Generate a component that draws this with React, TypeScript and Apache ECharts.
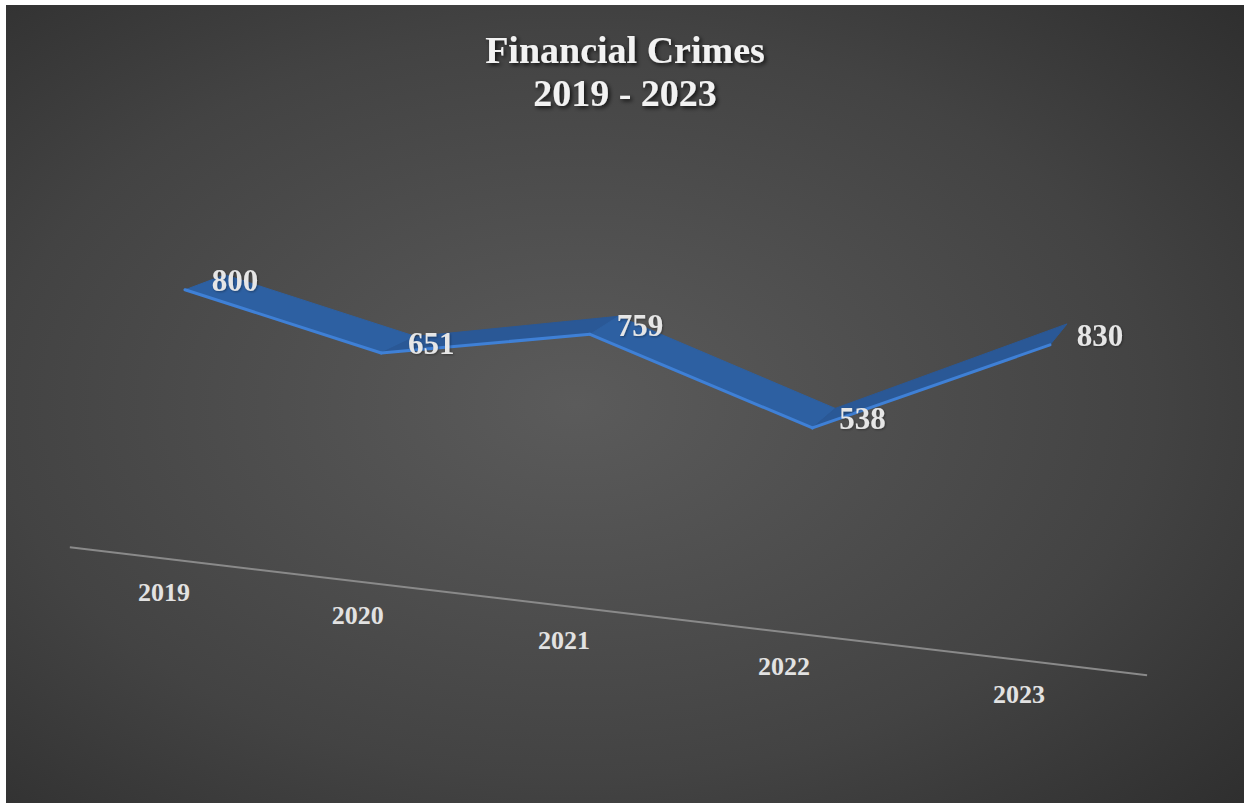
import React, { useEffect, useRef } from "react";
import * as echarts from "echarts";

// ---- data ----
const years: string[] = ["2019", "2020", "2021", "2022", "2023"];
const crimes: number[] = [800, 651, 759, 538, 830];
const chartTitle = "Financial Crimes\n2019 - 2023";

// ---- layout / projection (styling only) ----
const W = 1238;
const H = 798;
const GRID_LEFT = 179;
const GRID_RIGHT = 194;
const GRID_TOP = 222;
const GRID_BOTTOM = 262;
const BASE_Y = H - GRID_BOTTOM;
const PERSP = -0.1196; // perspective factor along the category direction
const FLOOR_SLOPE = 0.1155; // slant of the floor in screen space

function project(p: number[]) {
  const gw = W - GRID_LEFT - GRID_RIGHT;
  const t = (p[0] - GRID_LEFT) / gw;
  const w = 1 / (1 + PERSP * t);
  const x = GRID_LEFT + gw * t * (1 + PERSP) * w;
  const h = BASE_Y - p[1];
  const y = BASE_Y + FLOOR_SLOPE * (x - GRID_LEFT) - h * w;
  return { x, y, t };
}

function depth(t: number) {
  return [40 - 23 * t, -15 - 6 * t];
}

export default function App() {
  const ref = useRef<HTMLDivElement>(null);

  useEffect(() => {
    if (!ref.current) return;
    const chart = echarts.init(ref.current, null, { renderer: "svg" });

    const ribbonData = crimes.map((v, i) => [i, v]);
    const axisData = years.map((_, i) => [i, 0]);

    const option: any = {
      animation: false,
      backgroundColor: "transparent",
      graphic: [
        {
          type: "rect",
          z: -10,
          silent: true,
          shape: { x: 0, y: 0, width: W, height: H },
          style: {
            fill: new echarts.graphic.RadialGradient(0.46, 0.5, 0.85, [
              { offset: 0, color: "#5b5b5b" },
              { offset: 0.55, color: "#434343" },
              { offset: 1, color: "#262626" },
            ]),
          },
        },
      ],
      title: {
        text: chartTitle,
        left: "center",
        top: 18,
        textStyle: {
          color: "#f2f2f2",
          fontFamily: "Liberation Serif",
          fontWeight: "bold",
          fontSize: 38,
          lineHeight: 43,
          textShadowColor: "rgba(0,0,0,0.75)",
          textShadowBlur: 4,
          textShadowOffsetX: 2,
          textShadowOffsetY: 2,
        },
      },
      grid: { left: GRID_LEFT, right: GRID_RIGHT, top: GRID_TOP, bottom: GRID_BOTTOM },
      xAxis: {
        type: "category",
        data: years,
        boundaryGap: false,
        show: false,
      },
      yAxis: {
        type: "value",
        min: 0,
        max: 1000,
        show: false,
        splitLine: { show: false },
      },
      series: [
        {
          type: "custom",
          name: "axis",
          clip: false,
          z: 2,
          data: axisData,
          renderItem: (params: any, api: any) => {
            const i = params.dataIndex;
            const p = project(api.coord([api.value(0), 0]));
            const children: any[] = [
              {
                type: "text",
                x: p.x - 21 - 10 * p.t,
                y: p.y + 51 + 3 * p.t,
                style: {
                  text: years[i],
                  fill: "#e2e2e2",
                  fontFamily: "Liberation Serif",
                  fontWeight: "bold",
                  fontSize: 26,
                  align: "center",
                  verticalAlign: "middle",
                },
              },
            ];
            if (i === 0) {
              const a = api.coord([0, 0]);
              const b = api.coord([years.length - 1, 0]);
              const f0 = -0.154;
              const f1 = 1.0975;
              const s = project([a[0] + (b[0] - a[0]) * f0, a[1] + 20]);
              const e = project([a[0] + (b[0] - a[0]) * f1, a[1] + 20]);
              children.unshift({
                type: "line",
                shape: { x1: s.x, y1: s.y, x2: e.x, y2: e.y },
                style: { stroke: "#8a8a8a", lineWidth: 2 },
              });
            }
            return { type: "group", children };
          },
        },
        {
          type: "custom",
          name: "Financial Crimes",
          clip: false,
          z: 3,
          data: ribbonData,
          renderItem: (params: any, api: any) => {
            const i = params.dataIndex;
            if (i >= crimes.length - 1) return { type: "group", children: [] };
            const p0 = project(api.coord([i, crimes[i]]));
            const p1 = project(api.coord([i + 1, crimes[i + 1]]));
            const d0 = depth(p0.t);
            const d1 = depth(p1.t);
            const rising = p1.y < p0.y;
            return {
              type: "group",
              children: [
                {
                  type: "polygon",
                  shape: {
                    points: [
                      [p0.x, p0.y],
                      [p1.x, p1.y],
                      [p1.x + d1[0], p1.y + d1[1]],
                      [p0.x + d0[0], p0.y + d0[1]],
                    ],
                  },
                  style: {
                    fill: rising ? "#2a5896" : "#2d60a2",
                    stroke: rising ? "#2a5896" : "#2d60a2",
                    lineWidth: 1,
                  },
                },
                {
                  type: "line",
                  shape: { x1: p0.x, y1: p0.y, x2: p1.x, y2: p1.y },
                  style: { stroke: "#3f80d6", lineWidth: 3, lineCap: "round" },
                },
              ],
            };
          },
        },
        {
          type: "custom",
          name: "labels",
          clip: false,
          z: 5,
          data: ribbonData,
          renderItem: (params: any, api: any) => {
            const i = params.dataIndex;
            const p = project(api.coord([i, crimes[i]]));
            return {
              type: "text",
              x: p.x + 50,
              y: p.y - 9,
              style: {
                text: String(crimes[i]),
                fill: "#e6e6e6",
                fontFamily: "Liberation Serif",
                fontWeight: "bold",
                fontSize: 31,
                align: "center",
                verticalAlign: "middle",
                textShadowColor: "rgba(0,0,0,0.35)",
                textShadowBlur: 2,
                textShadowOffsetX: 1,
                textShadowOffsetY: 1,
              },
            };
          },
        },
      ],
    };

    chart.setOption(option);
    return () => {
      chart.dispose();
    };
  }, []);

  return (
    <div
      ref={ref}
      style={{ position: "absolute", left: 6, top: 5, width: W, height: H }}
    />
  );
}
